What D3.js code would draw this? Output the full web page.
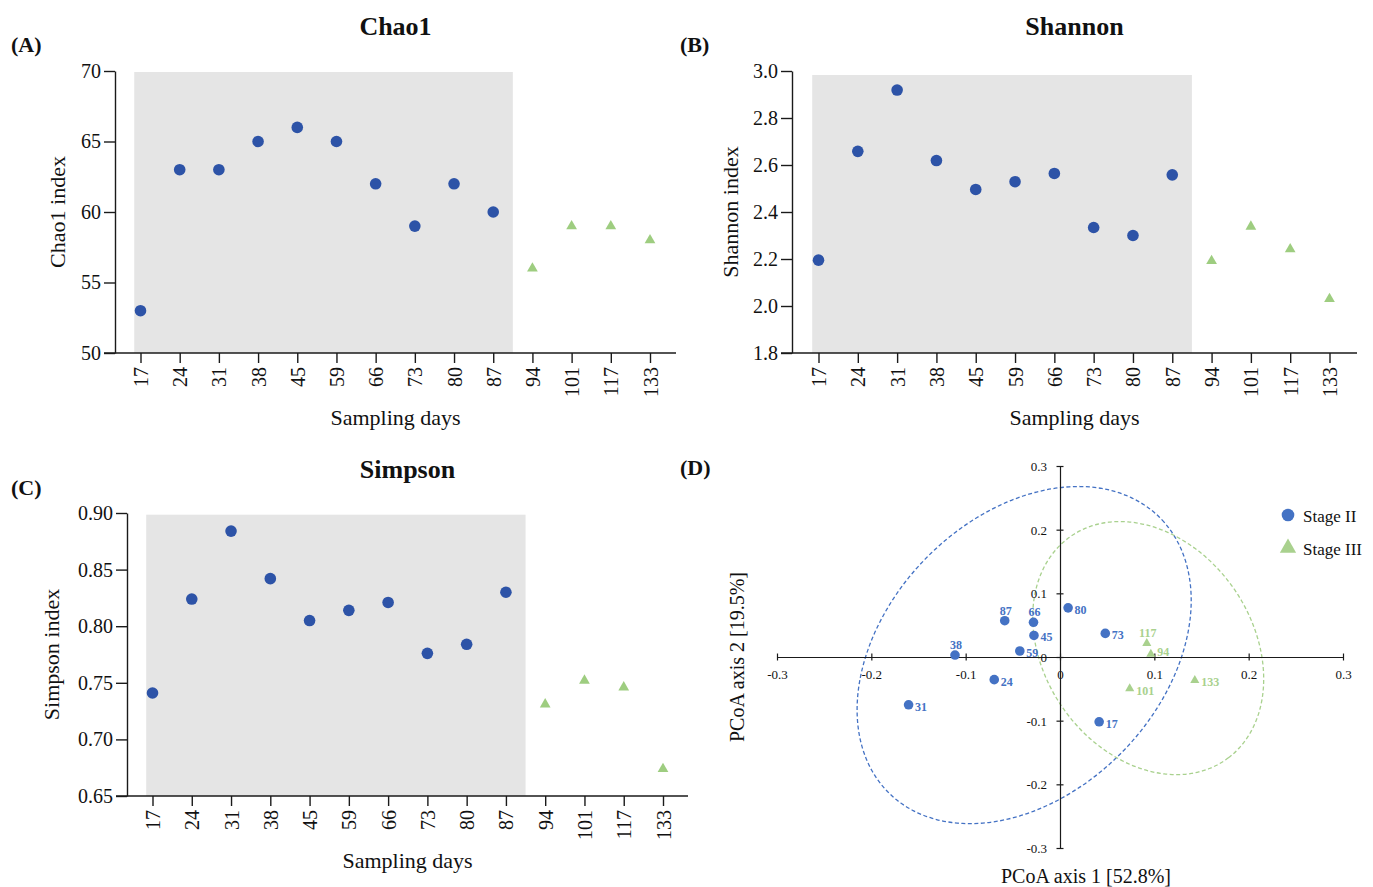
<!DOCTYPE html>
<html>
<head>
<meta charset="utf-8">
<script src="https://cdn.jsdelivr.net/npm/d3@7"></script>
<style>
  html, body { margin: 0; padding: 0; background: #fff; }
  svg { display: block; }
  text { font-family: "Liberation Serif", "Times New Roman", serif; fill: #111; }
</style>
</head>
<body>
<svg id="chart" width="1373" height="887"></svg>
<script>
// ---------------- DATA ----------------
const days = ["17","24","31","38","45","59","66","73","80","87","94","101","117","133"];
const stages = ["II","II","II","II","II","II","II","II","II","II","III","III","III","III"];
const chao1 = [53, 63, 63, 65, 66, 65, 62, 59, 62, 60, 56, 59, 59, 58];
const shannon = [2.195, 2.658, 2.919, 2.619, 2.496, 2.529, 2.564, 2.334, 2.300, 2.558, 2.192, 2.338, 2.242, 2.030];
const simpson = [0.741, 0.824, 0.884, 0.842, 0.805, 0.814, 0.821, 0.776, 0.784, 0.830, 0.731, 0.752, 0.746, 0.674];
const chao1Ticks = [50, 55, 60, 65, 70];
const shannonTicks = [1.8, 2.0, 2.2, 2.4, 2.6, 2.8, 3.0];
const simpsonTicks = [0.65, 0.70, 0.75, 0.80, 0.85, 0.90];
const stageIIBand = ["17", "87"]; // shaded sampling-day range (Stage II)

// PCoA
const pcoaSamples = ["17","24","31","38","45","59","66","73","80","87","94","101","117","133"];
const pcoaStages  = ["II","II","II","II","II","II","II","II","II","II","III","III","III","III"];
const pcoaAxis1 = [0.0415, -0.0697, -0.1605, -0.1113, -0.0276, -0.0426, -0.0281, 0.0480, 0.0086, -0.0586, 0.0963, 0.0739, 0.0920, 0.1429];
const pcoaAxis2 = [-0.1018, -0.0356, -0.0751, 0.0031, 0.0338, 0.0094, 0.0545, 0.0371, 0.0772, 0.0570, 0.0045, -0.0495, 0.0215, -0.0366];
const pcoaTicks = [-0.3, -0.2, -0.1, 0, 0.1, 0.2, 0.3];
// ellipses: [centre axis1, centre axis2, semi-axis u (axis1, axis2), semi-axis v (axis1, axis2)]
const ellipseStageII  = [-0.038, 0.003, 0.1426, 0.2177, 0.1050, -0.1507];
const ellipseStageIII = [0.0935, 0.014, 0.0819, -0.1757, 0.0910, 0.0929];
const legendLabels = ["Stage II", "Stage III"];

// ---------------- STYLE ----------------
const darkBlue = "#2d53a7";
const lightGreen = "#9ecd80";
const pBlue = "#4472c4";
const pGreen = "#a9d18e";
const axisColor = "#1a1a1a";

const svg = d3.select("#chart");

function scatterPanel(o) {
  const g = svg.append("g");
  const x = d3.scalePoint().domain(days).range([o.xFirst, o.xLast]);
  const y = d3.scaleLinear().domain(o.yDomain).range([o.yBottom, o.yTop]);
  const step = x.step();

  // shaded band
  g.append("rect")
    .attr("x", x(stageIIBand[0]) - step * 0.16)
    .attr("y", y(o.bandTop))
    .attr("width", (x(stageIIBand[1]) + step * 0.5) - (x(stageIIBand[0]) - step * 0.16))
    .attr("height", o.yBottom - y(o.bandTop))
    .attr("fill", "#e5e5e5");

  // y axis
  const ya = g.append("g").attr("transform", `translate(${o.yAxisX},0)`)
    .call(d3.axisLeft(y).tickValues(o.yTicks).tickFormat(o.fmt).tickSize(11).tickPadding(3).tickSizeOuter(0));
  ya.select(".domain").attr("stroke", axisColor).attr("stroke-width", 1.4);
  ya.selectAll(".tick line").attr("stroke", axisColor).attr("stroke-width", 1.4);
  ya.selectAll(".tick text").attr("font-size", 20).attr("fill", "#111")
    .style("font-family", '"Liberation Serif", "Times New Roman", serif');

  // x axis
  const xa = g.append("g").attr("transform", `translate(0,${o.yBottom})`)
    .call(d3.axisBottom(x).tickSize(10).tickSizeOuter(0));
  xa.select(".domain").remove();
  xa.selectAll(".tick line").attr("stroke", axisColor).attr("stroke-width", 1.4);
  xa.selectAll(".tick text")
    .attr("transform", "rotate(-90)")
    .attr("text-anchor", "end")
    .attr("x", -14).attr("y", 0).attr("dy", "0.35em")
    .attr("font-size", 20).attr("fill", "#111")
    .style("font-family", '"Liberation Serif", "Times New Roman", serif');
  g.append("line")
    .attr("x1", o.yAxisX - 11).attr("x2", o.axisEnd)
    .attr("y1", o.yBottom).attr("y2", o.yBottom)
    .attr("stroke", axisColor).attr("stroke-width", 1.4);

  // points
  const pts = days.map((d, i) => ({ d, v: o.values[i], s: stages[i] }));
  g.selectAll("circle.pt").data(pts.filter(p => p.s === "II")).enter()
    .append("circle").attr("class", "pt")
    .attr("cx", p => x(p.d)).attr("cy", p => y(p.v)).attr("r", 5.8)
    .attr("fill", darkBlue);
  g.selectAll("path.tri").data(pts.filter(p => p.s === "III")).enter()
    .append("path").attr("class", "tri")
    .attr("d", d3.symbol().type(d3.symbolTriangle).size(50))
    .attr("transform", p => `translate(${x(p.d)},${y(p.v)})`)
    .attr("fill", lightGreen);

  // titles
  const mid = (o.yAxisX + o.axisEnd) / 2;
  g.append("text").attr("x", mid).attr("y", o.titleY).attr("text-anchor", "middle")
    .attr("font-size", 26).attr("font-weight", "bold").text(o.title);
  g.append("text").attr("x", o.letterX).attr("y", o.titleY + 17)
    .attr("font-size", 22).attr("font-weight", "bold").text(o.letter);
  g.append("text").attr("x", mid).attr("y", o.yBottom + 72).attr("text-anchor", "middle")
    .attr("font-size", 22).text("Sampling days");
  g.append("text")
    .attr("transform", `translate(${o.yLabelX},${(o.yTop + o.yBottom) / 2}) rotate(-90)`)
    .attr("text-anchor", "middle").attr("font-size", 22).text(o.yLabel);
}

scatterPanel({
  values: chao1, yDomain: [50, 70], yTicks: chao1Ticks, fmt: d3.format("d"), bandTop: 69.93,
  yAxisX: 115, yTop: 71, yBottom: 353, xFirst: 140.5, xLast: 650, axisEnd: 676,
  title: "Chao1", titleY: 35, letter: "(A)", letterX: 11, yLabel: "Chao1 index", yLabelX: 65
});
scatterPanel({
  values: shannon, yDomain: [1.8, 3.0], yTicks: shannonTicks, fmt: d3.format(".1f"), bandTop: 2.983,
  yAxisX: 792, yTop: 71, yBottom: 353, xFirst: 818.5, xLast: 1329.5, axisEnd: 1357,
  title: "Shannon", titleY: 35, letter: "(B)", letterX: 680, yLabel: "Shannon index", yLabelX: 738
});
scatterPanel({
  values: simpson, yDomain: [0.65, 0.90], yTicks: simpsonTicks, fmt: d3.format(".2f"), bandTop: 0.8985,
  yAxisX: 127, yTop: 513, yBottom: 796, xFirst: 152.5, xLast: 663, axisEnd: 688,
  title: "Simpson", titleY: 478, letter: "(C)", letterX: 11, yLabel: "Simpson index", yLabelX: 59
});
// (D) letter
svg.append("text").attr("x", 680).attr("y", 475).attr("font-size", 22).attr("font-weight", "bold").text("(D)");

// ---------------- PCoA panel ----------------
(function () {
  const g = svg.append("g");
  const x = d3.scaleLinear().domain([-0.3, 0.3]).range([777, 1343]);
  const y = d3.scaleLinear().domain([-0.3, 0.3]).range([848, 466]);
  const fmt = d => d === 0 ? "0" : String(+d.toFixed(1));

  // ellipses
  const ts = d3.range(0, 360, 2).map(a => a * Math.PI / 180);
  const line = d3.line().x(p => x(p[0])).y(p => y(p[1])).curve(d3.curveCardinalClosed);
  [[ellipseStageII, pBlue], [ellipseStageIII, pGreen]].forEach(([e, col]) => {
    const pts = ts.map(t => [e[0] + e[2] * Math.cos(t) + e[4] * Math.sin(t),
                             e[1] + e[3] * Math.cos(t) + e[5] * Math.sin(t)]);
    g.append("path").attr("d", line(pts)).attr("fill", "none")
      .attr("stroke", col).attr("stroke-width", 1.3).attr("stroke-dasharray", "4,2.5");
  });

  // axes
  const xa = g.append("g").attr("transform", `translate(0,${y(0)})`)
    .call(d3.axisBottom(x).tickValues(pcoaTicks).tickFormat(fmt).tickSizeOuter(0));
  xa.selectAll(".tick line").attr("y1", -3.5).attr("y2", 3.5);
  xa.selectAll(".tick text").attr("y", 17).attr("dy", "0.35em");
  const ya = g.append("g").attr("transform", `translate(${x(0)},0)`)
    .call(d3.axisLeft(y).tickValues(pcoaTicks).tickFormat(fmt).tickSizeOuter(0));
  ya.selectAll(".tick line").attr("x1", -3.5).attr("x2", 3.5);
  ya.selectAll(".tick text").attr("x", -13).attr("dy", "0.35em");
  [xa, ya].forEach(a => {
    a.select(".domain").attr("stroke", axisColor).attr("stroke-width", 1.2);
    a.selectAll(".tick line").attr("stroke", axisColor).attr("stroke-width", 1.2);
    a.selectAll(".tick text").attr("font-size", 13).attr("fill", "#111")
      .style("font-family", '"Liberation Serif", "Times New Roman", serif');
  });

  // points
  const pts = pcoaSamples.map((s, i) => ({ s, a: pcoaAxis1[i], b: pcoaAxis2[i], st: pcoaStages[i] }));
  g.selectAll("circle.pp").data(pts.filter(p => p.st === "II")).enter()
    .append("circle").attr("class", "pp")
    .attr("cx", p => x(p.a)).attr("cy", p => y(p.b)).attr("r", 4.8).attr("fill", pBlue);
  g.selectAll("path.pt").data(pts.filter(p => p.st === "III")).enter()
    .append("path").attr("class", "pt")
    .attr("d", d3.symbol().type(d3.symbolTriangle).size(36))
    .attr("transform", p => `translate(${x(p.a)},${y(p.b)})`).attr("fill", pGreen);

  // point labels
  const above = new Set(["87", "66", "38", "117"]);
  g.selectAll("text.lab").data(pts).enter().append("text").attr("class", "lab")
    .attr("x", p => above.has(p.s) ? x(p.a) + 1 : x(p.a) + 6.5)
    .attr("y", p => above.has(p.s) ? y(p.b) - 6 : y(p.b) + (p.s === "94" ? 2 : 6))
    .attr("text-anchor", p => above.has(p.s) ? "middle" : "start")
    .attr("font-size", 12).attr("font-weight", "bold")
    .style("fill", p => p.st === "II" ? pBlue : pGreen)
    .text(p => p.s);

  // axis titles
  g.append("text").attr("x", (x(-0.3) + x(0.3)) / 2 + 26).attr("y", 883).attr("text-anchor", "middle")
    .attr("font-size", 20).text("PCoA axis 1 [52.8%]");
  g.append("text").attr("transform", `translate(744,${y(0)}) rotate(-90)`).attr("text-anchor", "middle")
    .attr("font-size", 20).text("PCoA axis 2 [19.5%]");

  // legend
  const lg = g.append("g");
  lg.append("circle").attr("cx", 1288).attr("cy", 515).attr("r", 6.3).attr("fill", pBlue);
  lg.append("path").attr("d", d3.symbol().type(d3.symbolTriangle).size(115))
    .attr("transform", "translate(1288,548)").attr("fill", pGreen);
  lg.append("text").attr("x", 1303).attr("y", 522).attr("font-size", 17).text(legendLabels[0]);
  lg.append("text").attr("x", 1303).attr("y", 555).attr("font-size", 17).text(legendLabels[1]);
})();
</script>
</body>
</html>
